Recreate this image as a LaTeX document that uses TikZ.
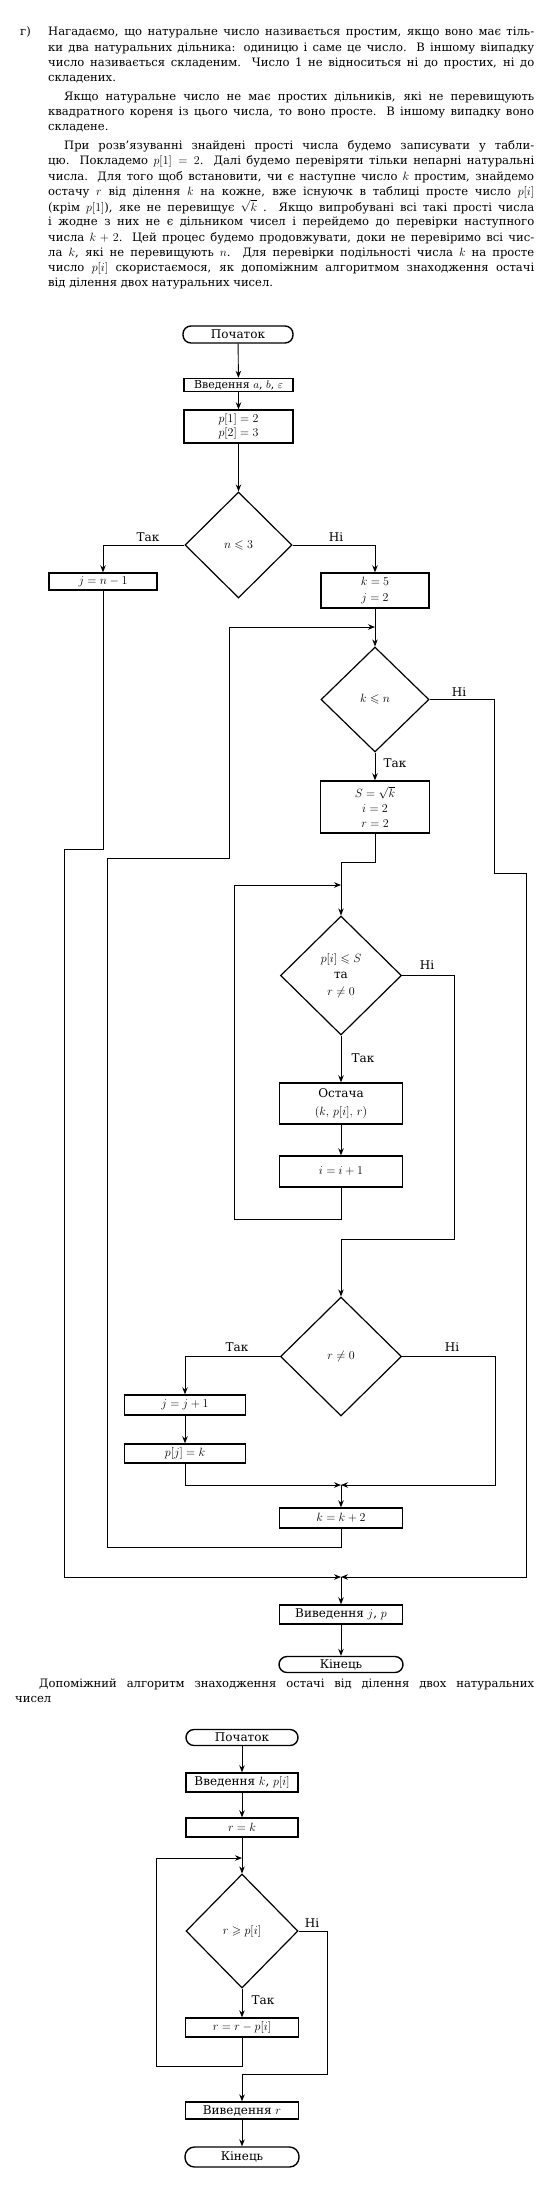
\documentclass[tikz,border=0pt]{standalone}
\usepackage{amsmath,amssymb}
\usepackage{fontspec}
\setmainfont{DejaVu Serif}
\usetikzlibrary{shapes.geometric,arrows.meta}
\tikzset{
  conn/.style={line width=0.9pt},
  arr/.style={conn,-{Stealth[length=7pt,width=5.5pt]}},
  box/.style={draw,line width=1.4pt,rectangle,inner sep=0pt,align=center,font=\fontsize{12}{15}\selectfont},
  term/.style={box,rounded corners=8pt},
  dec/.style={draw,line width=1.2pt,diamond,inner sep=0pt,align=center,font=\fontsize{12}{16.5}\selectfont},
  lbl/.style={inner sep=0pt,font=\fontsize{12}{14}\selectfont},
  txt/.style={inner sep=0pt,anchor=base west,font=\fontsize{11.6}{15}\selectfont},
}
\newcommand{\jl}[1]{\makebox[486pt][s]{#1}}
\newcommand{\jli}[1]{\makebox[470pt][s]{#1}}
\begin{document}
\begin{tikzpicture}[x=1pt,y=-1pt]
\fill[white] (0,0) rectangle (558,2192);
\useasboundingbox (0,0) rectangle (558,2192);
% ---------- text ----------
\node[txt] (tg) at (20,36) {г)};
\node[txt] (t1) at (48,36) {\jl{Нагадаємо, що натуральне число називається простим, якщо воно має тіль-}};
\node[txt] (t2) at (48,51.2) {\jl{ки два натуральних дільника: одиницю і саме це число. В іншому віипадку}};
\node[txt] (t3) at (48,66.4) {\jl{число називається складеним. Число 1 не відноситься ні до простих, ні до}};
\node[txt] (t4) at (48,81.6) {складених.};
\node[txt] (t5) at (64,100.4) {\jli{Якщо натуральне число не має простих дільників, які не перевищують}};
\node[txt] (t6) at (48,115.6) {\jl{квадратного кореня із цього числа, то воно просте. В іншому випадку воно}};
\node[txt] (t7) at (48,130.8) {складене.};
\node[txt] (t8) at (64,149.6) {\jli{При розв’язуванні знайдені прості числа будемо записувати у табли-}};
\node[txt] (t9) at (48,164.8) {\jl{цю. Покладемо $p[1]=2$. Далі будемо перевіряти тільки непарні натуральні}};
\node[txt] (t10) at (48,180) {\jl{числа. Для того щоб встановити, чи є наступне число $k$ простим, знайдемо}};
\node[txt] (t11) at (48,195.2) {\jl{остачу $r$ від ділення $k$ на кожне, вже існуючк в таблиці просте число $p[i]$}};
\node[txt] (t12) at (48,211) {\jl{(крім $p[1]$), яке не перевищує $\sqrt{k}$ . Якщо випробувані всі такі прості числа}};
\node[txt] (t13) at (48,225.8) {\jl{і жодне з них не є дільником чисел і перейдемо до перевірки наступного}};
\node[txt] (t14) at (48,241) {\jl{числа $k+2$. Цей процес будемо продовжувати, доки не перевіримо всі чис-}};
\node[txt] (t15) at (48,256.2) {\jl{ла $k$, які не перевищують $n$. Для перевірки подільності числа $k$ на просте}};
\node[txt] (t16) at (48,271.4) {\jl{число $p[i]$ скористаємося, як допоміжним алгоритмом знаходження остачі}};
\node[txt] (t17) at (48,286.6) {від ділення двох натуральних чисел.};
% ---------- main flowchart ----------
\node[term,minimum width=110pt,minimum height=17pt] (start) at (238,334.5) {Початок};
\node[box,minimum width=109pt,minimum height=13pt,font=\fontsize{11}{14}\selectfont] (inp) at (238.5,385) {Введення $a$, $b$, $\varepsilon$};
\node[box,minimum width=109pt,minimum height=33pt,font=\fontsize{12}{14}\selectfont] (init) at (238.5,426.5) {$p[1]=2$\\$p[2]=3$};
\node[dec,minimum width=107pt,minimum height=106pt] (d1) at (238.5,545) {$n\leqslant 3$};
\node[box,minimum width=108pt,minimum height=17pt] (jn) at (103,581.5) {$j=n-1$};
\node[box,minimum width=108pt,minimum height=35pt,font=\fontsize{12}{16}\selectfont] (k5) at (375,590.5) {$k=5$\\$j=2$};
\node[dec,minimum width=108pt,minimum height=105pt] (d2) at (375,699.5) {$k\leqslant n$};
\node[box,minimum width=109pt,minimum height=52pt] (sk) at (375,807) {$S=\sqrt{k}$\\$i=2$\\$r=2$};
\node[dec,minimum width=121pt,minimum height=119pt] (d3) at (341,975.5) {$p[i]\leqslant S$\\та\\$r\ne 0$};
\node[box,minimum width=123pt,minimum height=41pt,font=\fontsize{12}{18}\selectfont] (ost) at (341,1103.5) {Остача\\$(k,\,p[i],\,r)$};
\node[box,minimum width=123pt,minimum height=31pt] (ii) at (341,1171.5) {$i=i+1$};
\node[dec,minimum width=121pt,minimum height=119pt] (d4) at (341,1356.5) {$r\ne 0$};
\node[box,minimum width=121pt,minimum height=20pt] (jj) at (185,1405) {$j=j+1$};
\node[box,minimum width=121pt,minimum height=19pt] (pj) at (185,1453.5) {$p[j]=k$};
\node[box,minimum width=123pt,minimum height=20pt] (kk) at (341,1518) {$k=k+2$};
\node[box,minimum width=123pt,minimum height=19pt] (out) at (341,1614.5) {Виведення $j$, $p$};
\node[term,minimum width=124pt,minimum height=16pt,rounded corners=8pt] (end) at (341,1664.5) {Кінець};
% labels
\node[lbl] (l1t) at (148,537) {Так};
\node[lbl] (l1n) at (336,537) {Ні};
\node[lbl] (l2n) at (459,692) {Ні};
\node[lbl] (l2t) at (395,763) {Так};
\node[lbl] (l3n) at (427,965) {Ні};
\node[lbl] (l3t) at (363,1058) {Так};
\node[lbl] (l4t) at (237,1347) {Так};
\node[lbl] (l4n) at (452,1347) {Ні};
% coordinates
\coordinate (J1) at (375,627);
\coordinate (b1) at (375,862);
\coordinate (b2) at (341,862);
\coordinate (J2) at (341,885);
\coordinate (c2) at (234,1219);
\coordinate (c3) at (454,1239);
\coordinate (J3) at (341,1485);
\coordinate (c4) at (495,1485);
\coordinate (k1) at (341,1547);
\coordinate (k2) at (107.5,1547);
\coordinate (k3) at (107.5,858);
\coordinate (k4) at (229,858);
\coordinate (k5c) at (229,627);
\coordinate (m1) at (103,849);
\coordinate (m2) at (64,849);
\coordinate (m3) at (64,1577);
\coordinate (J4) at (341,1577);
\coordinate (n1) at (494,873);
\coordinate (n2) at (526,873);
\coordinate (n3) at (526,1577);
% connectors
\draw[arr] (start) -- (inp);
\draw[arr] (inp) -- (init);
\draw[arr] (init) -- (d1);
\draw[arr] (d1.west) -| (jn.north);
\draw[arr] (d1.east) -| (k5.north);
\draw[conn] (k5.south) -- (J1);
\draw[arr] (J1) -- (d2.north);
\draw[arr] (d2.south) -- (sk.north);
\draw[conn] (sk.south) -- (b1) -- (b2) -- (J2);
\draw[arr] (J2) -- (d3.north);
\draw[arr] (d3.south) -- (ost.north);
\draw[arr] (ost) -- (ii);
\draw[arr] (ii.south) |- (c2) |- (J2);
\draw[arr] (d3.east) -| (c3) -| (d4.north);
\draw[arr] (d4.west) -| (jj.north);
\draw[arr] (jj) -- (pj);
\draw[arr] (pj.south) |- (J3);
\draw[arr] (d4.east) -| (c4) -- (J3);
\draw[arr] (J3) -- (kk);
\draw[arr] (kk.south) -- (k1) -- (k2) -- (k3) -- (k4) -- (k5c) -- (J1);
\draw[arr] (jn.south) -- (m1) -- (m2) -- (m3) -- (J4);
\draw[arr] (d2.east) -| (n1) -- (n2) -- (n3) -- (J4);
\draw[arr] (J4) -- (out);
\draw[arr] (out) -- (end);
% ---------- second paragraph ----------
\node[txt] (q1) at (39,1687) {\makebox[495pt][s]{Допоміжний алгоритм знаходження остачі від ділення двох натуральних}};
\node[txt] (q2) at (15,1702) {чисел};
% ---------- auxiliary flowchart ----------
\node[term,minimum width=112pt,minimum height=16pt,rounded corners=8pt] (bstart) at (242,1737.5) {Початок};
\node[box,minimum width=112pt,minimum height=19pt] (binp) at (242,1782.5) {Введення $k$, $p[i]$};
\node[box,minimum width=112pt,minimum height=19pt] (brk) at (242,1827.5) {$r=k$};
\node[dec,minimum width=112pt,minimum height=114pt] (bd) at (242,1931) {$r\geqslant p[i]$};
\node[box,minimum width=113pt,minimum height=19pt] (bsub) at (242,2027.5) {$r=r-p[i]$};
\node[box,minimum width=113pt,minimum height=17pt] (bout) at (242,2110.5) {Виведення $r$};
\node[term,minimum width=114pt,minimum height=20pt,rounded corners=9.5pt] (bend) at (242,2157) {Кінець};
\node[lbl] (bln) at (312,1923) {Ні};
\node[lbl] (blt) at (263,2000) {Так};
\coordinate (J5) at (242,1858);
\coordinate (s1) at (242,2066);
\coordinate (s2) at (156.6,2066);
\coordinate (s3) at (156.6,1858);
\coordinate (u1) at (327,2074);
\draw[arr] (bstart) -- (binp);
\draw[arr] (binp) -- (brk);
\draw[conn] (brk.south) -- (J5);
\draw[arr] (J5) -- (bd.north);
\draw[arr] (bd.south) -- (bsub.north);
\draw[arr] (bsub.south) -- (s1) -- (s2) -- (s3) -- (J5);
\draw[arr] (bd.east) -| (u1) -| (bout.north);
\draw[arr] (bout) -- (bend);
\end{tikzpicture}
\end{document}
